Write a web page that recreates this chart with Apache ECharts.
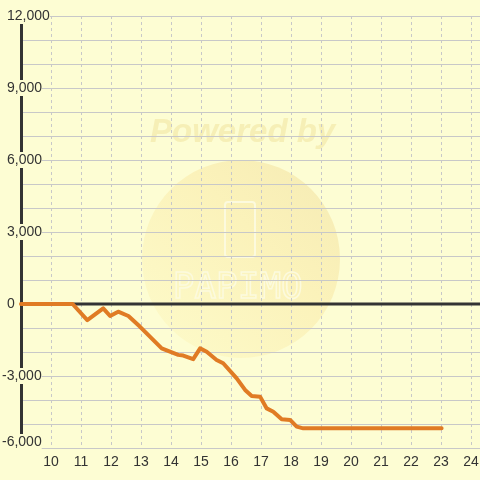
<!DOCTYPE html>
<html>
<head>
<meta charset="utf-8">
<script src="https://cdn.jsdelivr.net/npm/echarts@6/dist/echarts.min.js"></script>
<style>
html,body{margin:0;padding:0;background:#fdfdd3;}
#c{width:480px;height:480px;}
</style>
</head>
<body>
<div id="c"></div>
<script>
// Data
const xValues = [9, 10.72, 11.21, 11.74, 11.97, 12.24, 12.58, 12.97, 13.69, 14.24, 14.41, 14.74, 14.97, 15.19, 15.52, 15.74, 16.19, 16.47, 16.69, 16.97, 17.19, 17.41, 17.69, 17.97, 18.19, 18.41, 23.02];
const yValues = [0, 0, -670, -180, -500, -320, -500, -950, -1850, -2120, -2150, -2300, -1850, -1990, -2330, -2470, -3100, -3580, -3830, -3860, -4350, -4490, -4800, -4830, -5110, -5180, -5180];
const zeroLineX = [9, 24.3];
const zeroLineY = [0, 0];
const xMin = 9, xMax = 24.3;
const yMin = -6000, yMax = 12000;

const bg = '#fdfdd3';
const chart = echarts.init(document.getElementById('c'), null, {renderer: 'canvas'});

function fmtNum(v) {
  return v.toLocaleString('en-US');
}

const option = {
  backgroundColor: bg,
  animation: false,
  textStyle: {fontFamily: 'Liberation Sans, Arial, sans-serif'},
  grid: {left: 21, right: 0, top: 16, bottom: 32, containLabel: false, outerBoundsMode: 'none'},
  graphic: [
    {
      type: 'circle', z: -10, silent: true,
      shape: {cx: 241, cy: 259, r: 99},
      style: {
        fill: new echarts.graphic.LinearGradient(0, 1, 1, 0, [
          {offset: 0, color: '#fdfbca'},
          {offset: 0.6, color: '#fbf2ba'},
          {offset: 1, color: '#f5ebb4'}
        ])
      }
    },
    {
      type: 'text', z: -9, silent: true,
      left: 150, top: 116,
      style: {
        text: 'Powered by',
        font: 'italic bold 33px "Liberation Sans", Arial, sans-serif',
        fill: '#f6efb6'
      }
    },
    {
      type: 'rect', z: -9, silent: true,
      shape: {x: 225, y: 202, width: 30, height: 55, r: 3},
      style: {fill: 'rgba(0,0,0,0)', stroke: '#fcfade', lineWidth: 2}
    },
    {
      type: 'text', z: -9, silent: true,
      left: 172, top: 270,
      style: {
        text: 'PAPIMO',
        font: '36px "DejaVu Sans Mono", monospace',
        fill: 'rgba(0,0,0,0)',
        stroke: '#fcfade',
        lineWidth: 1.5
      }
    }
  ],
  xAxis: {
    type: 'value',
    min: xMin, max: xMax, interval: 1,
    axisLine: {show: false},
    axisTick: {show: false},
    axisLabel: {
      showMinLabel: false, showMaxLabel: false,
      color: '#333', fontSize: 14, margin: 7,
      fontFamily: 'Liberation Sans, Arial, sans-serif'
    },
    splitLine: {show: true, lineStyle: {color: '#c8c8c8', type: [3, 3], width: 1}}
  },
  yAxis: {
    type: 'value',
    min: yMin, max: yMax, interval: 1000,
    axisLine: {show: true, onZero: false, lineStyle: {color: '#333', width: 3}},
    axisTick: {show: false},
    axisLabel: {
      align: 'left', margin: 19,
      color: '#333', fontSize: 14,
      fontFamily: 'Liberation Sans, Arial, sans-serif',
      formatter: function (v) {
        if (v % 3000 !== 0) return '';
        const s = fmtNum(v);
        if (v === yMin) return '{low|' + s + '}';
        if (v < 0) return '{neg|' + s + '}';
        return '{pos|' + s + '}';
      },
      rich: {
        pos: {padding: [1, 0, 1, 5], backgroundColor: bg, color: '#333', fontSize: 14},
        neg: {padding: [1, 0, 1, 0], backgroundColor: bg, color: '#333', fontSize: 14},
        low: {padding: [1, 0, 13, 0], backgroundColor: bg, color: '#333', fontSize: 14}
      }
    },
    splitLine: {show: true, lineStyle: {color: '#c8c8c8', width: 1}}
  },
  series: [
    {
      type: 'line',
      z: 1,
      silent: true,
      symbol: 'none',
      data: zeroLineX.map((x, i) => [x, zeroLineY[i]]),
      lineStyle: {color: '#333', width: 3}
    },
    {
      type: 'line',
      z: 3,
      symbol: 'none',
      data: xValues.map((x, i) => [x, yValues[i]]),
      lineStyle: {color: '#e07b24', width: 4, join: 'round', cap: 'round'}
    }
  ]
};
chart.setOption(option);
</script>
</body>
</html>
